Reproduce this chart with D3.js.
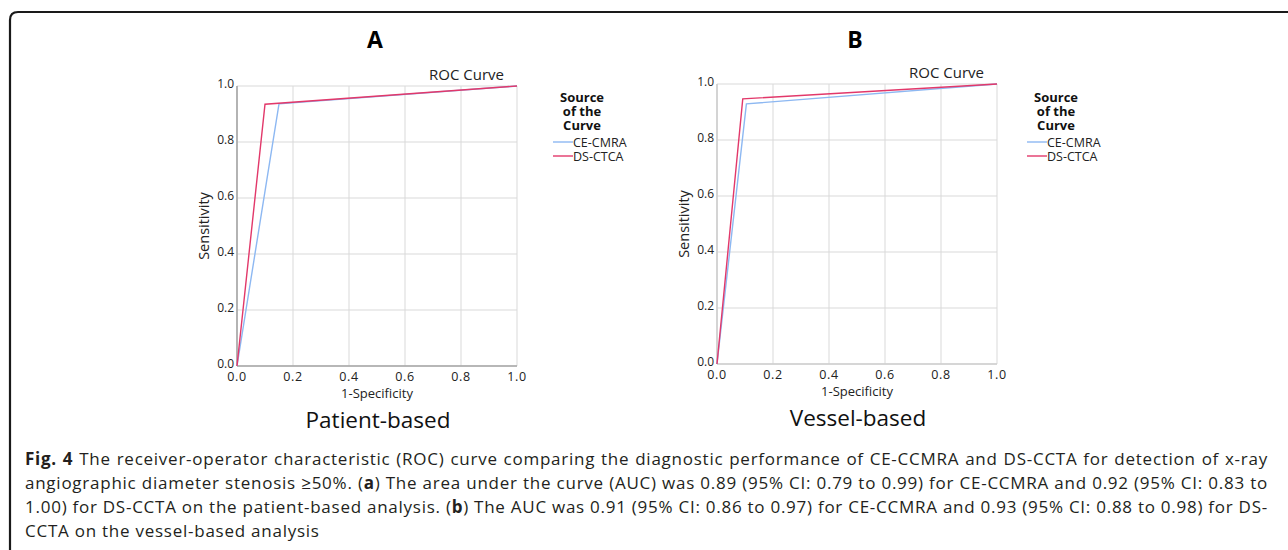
<!DOCTYPE html>
<html>
<head>
<meta charset="utf-8">
<script src="https://cdn.jsdelivr.net/npm/d3@7"></script>
<style>
  html, body { margin: 0; padding: 0; background: #fff; }
  svg { display: block; font-family: "Open Sans", sans-serif; }
</style>
</head>
<body>
<svg id="fig" width="1288" height="550"></svg>
<script>
// ROC points
const seriesNames = ["CE-CMRA", "DS-CTCA"]
const seriesColors = ["#8db8f2", "#e2386a"]

const patientCE = [[0, 0], [0.15, 0.936], [1, 1]]
const patientDS = [[0, 0], [0.10, 0.935], [1, 1]]
const vesselCE = [[0, 0], [0.105, 0.929], [1, 1]]
const vesselDS = [[0, 0], [0.092, 0.947], [1, 1]]

const ticks = [0, 0.2, 0.4, 0.6, 0.8, 1.0]

const panels = [
  { letter: "A", label: "Patient-based", x0: 237, y0: 86, series: [patientCE, patientDS], legendX: 553, axis: "#a6a6a6" },
  { letter: "B", label: "Vessel-based", x0: 717, y0: 84, series: [vesselCE, vesselDS], legendX: 1027, axis: "#cfcfcf" }
]

const captionLines = [
  [["b", "Fig. 4"], ["n", " The receiver-operator characteristic (ROC) curve comparing the diagnostic performance of CE-CCMRA and DS-CCTA for detection of x-ray"]],
  [["n", "angiographic diameter stenosis \u226550%. ("], ["b", "a"], ["n", ") The area under the curve (AUC) was 0.89 (95% CI: 0.79 to 0.99) for CE-CCMRA and 0.92 (95% CI: 0.83 to"]],
  [["n", "1.00) for DS-CCTA on the patient-based analysis. ("], ["b", "b"], ["n", ") The AUC was 0.91 (95% CI: 0.86 to 0.97) for CE-CCMRA and 0.93 (95% CI: 0.88 to 0.98) for DS-"]],
  [["n", "CCTA on the vessel-based analysis"]]
]

const svg = d3.select("#fig")
const W = 280
const H = 280

// frame round the figure
svg.append("path")
  .attr("d", "M10,560 L10,20 Q10,12 18,12 L1300,12")
  .attr("fill", "none")
  .attr("stroke", "#1a1a1a")
  .attr("stroke-width", 2.2)

function drawPanel(p){
  const g = svg.append("g").attr("transform", `translate(${p.x0},${p.y0})`)
  const x = d3.scaleLinear().domain([0, 1]).range([0, W])
  const y = d3.scaleLinear().domain([0, 1]).range([H, 0])

  // grid
  g.append("g").selectAll("line.v").data(ticks).join("line")
    .attr("x1", d => x(d)).attr("x2", d => x(d))
    .attr("y1", 0).attr("y2", H)
    .attr("stroke", "#d9d9d9").attr("stroke-width", 1)
  g.append("g").selectAll("line.h").data(ticks).join("line")
    .attr("x1", 0).attr("x2", W)
    .attr("y1", d => y(d)).attr("y2", d => y(d))
    .attr("stroke", "#d9d9d9").attr("stroke-width", 1)

  // axis lines
  g.append("line").attr("x1", 0).attr("x2", 0).attr("y1", 0).attr("y2", H)
    .attr("stroke", p.axis).attr("stroke-width", 1.6)
  g.append("line").attr("x1", 0).attr("x2", W).attr("y1", H).attr("y2", H)
    .attr("stroke", p.axis).attr("stroke-width", 1.6)

  // tick labels
  g.append("g").selectAll("text").data(ticks).join("text")
    .attr("x", -3).attr("y", d => y(d) + 1.5)
    .attr("text-anchor", "end")
    .attr("font-size", 12).attr("fill", "#222")
    .text(d3.format(".1f"))
  g.append("g").selectAll("text").data(ticks).join("text")
    .attr("x", d => x(d)).attr("y", H + 15)
    .attr("text-anchor", "middle")
    .attr("font-size", 12.5).attr("letter-spacing", 0.6).attr("fill", "#222")
    .text(d3.format(".1f"))

  // curves
  const line = d3.line().x(d => x(d[0])).y(d => y(d[1]))
  p.series.forEach((s, i) => {
    g.append("path").attr("d", line(s))
      .attr("fill", "none")
      .attr("stroke", seriesColors[i])
      .attr("stroke-width", 1.4)
  })

  // titles
  g.append("text").attr("x", W - 13).attr("y", -6)
    .attr("text-anchor", "end").attr("font-size", 15).attr("fill", "#222")
    .text("ROC Curve")
  g.append("text").attr("x", W / 2).attr("y", H + 32)
    .attr("text-anchor", "middle").attr("font-size", 13).attr("fill", "#222")
    .text("1-Specificity")
  g.append("text").attr("transform", `translate(${-28},${H / 2}) rotate(-90)`)
    .attr("text-anchor", "middle").attr("font-size", 14.5).attr("fill", "#222")
    .text("Sensitivity")
  g.append("text").attr("x", W / 2 + 1).attr("y", H + 62)
    .attr("text-anchor", "middle").attr("font-size", 22.5).attr("fill", "#111")
    .text(p.label)
  g.append("text").attr("x", W / 2 - 2).attr("y", 48 - p.y0)
    .attr("text-anchor", "middle").attr("font-size", 23).attr("font-weight", "bold").attr("fill", "#000")
    .text(p.letter)

  // legend
  const lg = svg.append("g").attr("transform", `translate(${p.legendX},0)`)
  lg.append("text").attr("x", 29).attr("y", 102)
    .attr("text-anchor", "middle").attr("font-size", 13).attr("font-weight", "bold").attr("fill", "#111")
    .selectAll("tspan").data(["Source", "of the", "Curve"]).join("tspan")
    .attr("x", 29).attr("dy", (d, i) => i ? 14 : 0)
    .text(d => d)
  seriesNames.forEach((n, i) => {
    const yy = 142 + i * 14
    lg.append("line").attr("x1", 0).attr("x2", 20).attr("y1", yy).attr("y2", yy)
      .attr("stroke", seriesColors[i]).attr("stroke-width", 1.4)
    lg.append("text").attr("x", 20).attr("y", yy + 4.5)
      .attr("font-size", 12.5).attr("fill", "#222").text(n)
  })
}

panels.forEach(drawPanel)

// caption, justified line by line
const capX = 25
const capRight = 1268
captionLines.forEach((segs, li) => {
  const t = svg.append("text")
    .attr("x", capX).attr("y", 464.5 + li * 24.2)
    .attr("font-size", 17).attr("letter-spacing", 0.75).attr("fill", "#231f20")
    .attr("xml:space", "preserve")
  segs.forEach(s => {
    t.append("tspan").attr("font-weight", s[0] === "b" ? "bold" : null).text(s[1])
  })
  if (li < captionLines.length - 1) {
    const natural = t.node().getComputedTextLength()
    const spaces = segs.map(s => s[1]).join("").split(" ").length - 1
    const extra = (capRight - capX - natural) / spaces
    t.attr("word-spacing", extra)
  }
})
</script>
</body>
</html>
